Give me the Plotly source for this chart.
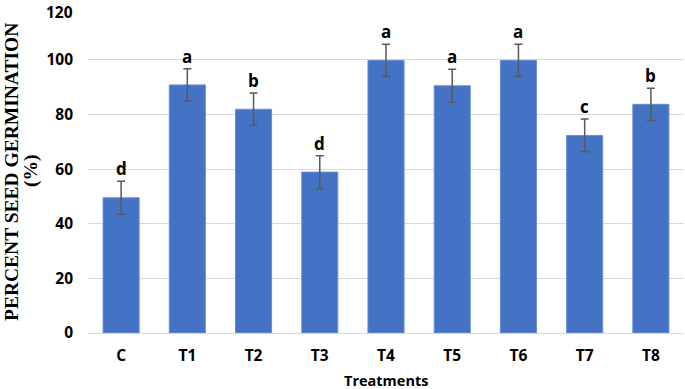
import plotly.graph_objects as go

categories = ["C", "T1", "T2", "T3", "T4", "T5", "T6", "T7", "T8"]
germination = [49.5, 90.8, 81.9, 58.9, 99.8, 90.5, 99.8, 72.3, 83.7]
errors = [6.0, 5.9, 5.9, 6.0, 5.9, 6.0, 5.9, 6.0, 5.9]
letters = ["d", "a", "b", "d", "a", "a", "a", "c", "b"]
y_ticks = [0, 20, 40, 60, 80, 100, 120]

sans = "Open Sans"
serif = "Liberation Serif"
tick_font = dict(family=sans, size=15.5, color="black", weight="bold")

fig = go.Figure()
fig.add_trace(go.Bar(
    x=categories, y=germination,
    marker=dict(color="#4472C4", line=dict(color="#6A8FD4", width=1)),
    error_y=dict(type="data", array=errors, visible=True,
                 color="#595959", thickness=1.5, width=4),
))

annotations = []
for c, v, e, l in zip(categories, germination, errors, letters):
    annotations.append(dict(x=c, y=v + e, text=f"<b>{l}</b>", showarrow=False,
                            yanchor="bottom", yshift=-1,
                            font=dict(family=sans, size=17, color="black")))

# top tick label (plotly hides it because it overflows the page edge)
annotations.append(dict(xref="paper", yref="y", x=(74 - 88) / 596, y=y_ticks[-1],
                        text=f"<b>{y_ticks[-1]}</b>", showarrow=False,
                        xanchor="right", yanchor="top", yshift=5, borderpad=0,
                        font=tick_font))

annotations.append(dict(xref="paper", yref="paper", x=(11 - 88) / 596, y=(333 - 172) / 328,
                        text="<b>PERCENT SEED GERMINATION</b>", textangle=-90,
                        showarrow=False, xanchor="center", yanchor="middle", borderpad=0,
                        font=dict(family=serif, size=19.5, color="black")))
annotations.append(dict(xref="paper", yref="paper", x=(31 - 88) / 596, y=(333 - 171) / 328,
                        text="<b>(%)</b>", textangle=-90,
                        showarrow=False, xanchor="center", yanchor="middle",
                        font=dict(family=serif, size=19.5, color="black")))
annotations.append(dict(xref="paper", yref="paper", x=(386 - 88) / 596, y=-(381 - 333) / 328,
                        text="<b>Treatments</b>", showarrow=False,
                        xanchor="center", yanchor="middle",
                        font=dict(family=sans, size=14.5, color="black")))

fig.update_layout(
    width=685, height=389,
    margin=dict(l=88, r=1, t=5, b=56, autoexpand=False),
    paper_bgcolor="white", plot_bgcolor="white",
    bargap=0.455,
    showlegend=False,
    annotations=annotations,
    xaxis=dict(
        automargin=False,
        showline=True, linecolor="#D9D9D9", linewidth=1,
        ticks="", ticklabelstandoff=8,
        tickfont=tick_font,
    ),
    yaxis=dict(
        automargin=False,
        range=[0, 120.05], tickvals=y_ticks,
        showgrid=True, gridcolor="#D9D9D9", gridwidth=1,
        zeroline=False, ticks="", ticklabelstandoff=14,
        tickfont=tick_font,
    ),
)

fig.write_html("out.html", config={"displayModeBar": False},
               post_script="document.body.style.margin='0';")
